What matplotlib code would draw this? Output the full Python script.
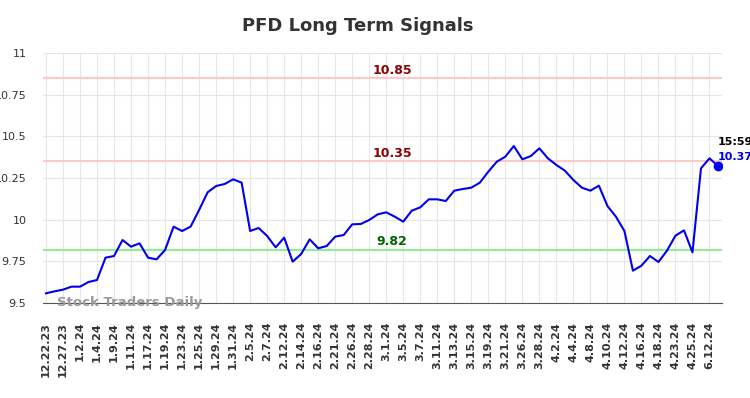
import matplotlib
matplotlib.use("Agg")
import matplotlib.pyplot as plt

dates = ["12.22.23", "12.27.23", "1.2.24", "1.4.24", "1.9.24", "1.11.24", "1.17.24", "1.19.24",
         "1.23.24", "1.25.24", "1.29.24", "1.31.24", "2.5.24", "2.7.24", "2.12.24", "2.14.24",
         "2.16.24", "2.21.24", "2.26.24", "2.28.24", "3.1.24", "3.5.24", "3.7.24", "3.11.24",
         "3.13.24", "3.15.24", "3.19.24", "3.21.24", "3.26.24", "3.28.24", "4.2.24", "4.4.24",
         "4.8.24", "4.10.24", "4.12.24", "4.16.24", "4.18.24", "4.23.24", "4.25.24", "6.12.24"]

prices = [9.558, 9.570, 9.580, 9.598, 9.598, 9.626, 9.638, 9.772, 9.782, 9.878,
          9.838, 9.858, 9.772, 9.762, 9.818, 9.958, 9.932, 9.958, 10.058, 10.164,
          10.202, 10.214, 10.242, 10.222, 9.932, 9.950, 9.902, 9.834, 9.892, 9.748,
          9.794, 9.882, 9.828, 9.842, 9.898, 9.908, 9.972, 9.974, 9.998, 10.032,
          10.044, 10.018, 9.988, 10.054, 10.074, 10.122, 10.122, 10.112, 10.174, 10.184,
          10.192, 10.222, 10.288, 10.348, 10.378, 10.442, 10.362, 10.382, 10.428, 10.368,
          10.328, 10.294, 10.238, 10.192, 10.174, 10.204, 10.082, 10.018, 9.932, 9.694,
          9.724, 9.782, 9.746, 9.814, 9.904, 9.936, 9.804, 10.308, 10.368, 10.322]

resistance_levels = [10.85, 10.35]
support_levels = [9.82]
last_time = "15:59"
last_label = "10.37"
yticks = [9.5, 9.75, 10, 10.25, 10.5, 10.75, 11]
ytick_labels = ["9.5", "9.75", "10", "10.25", "10.5", "10.75", "11"]

fig = plt.figure(figsize=(7.5, 3.98), dpi=100)
ax = fig.add_axes([43/750, 1 - 303/398, (722-43)/750, (303-53)/398])

x = list(range(len(prices)))
ax.set_xlim(-0.35, len(prices) - 1 + 0.47)
ax.set_ylim(9.5, 11)

ax.grid(True, color="#e6e6e6", linewidth=0.8)
ax.set_axisbelow(True)

for lv in resistance_levels:
    ax.axhline(lv, color="#ffc8c8", linewidth=1.5, zorder=1)
    ax.text(40.7, lv + 0.009, f"{lv:.2f}", color="#8b0000", fontsize=9, fontweight="bold",
            ha="center", va="bottom")
for lv in support_levels:
    ax.axhline(lv, color="#90ee90", linewidth=1.5, zorder=1)
    ax.text(40.7, lv + 0.009, f"{lv:.2f}", color="#006400", fontsize=9, fontweight="bold",
            ha="center", va="bottom")

ax.plot(x, prices, color="#0000ee", linewidth=1.5, zorder=3)
ax.plot([x[-1]], [prices[-1]], "o", color="#0000ee", markersize=6, zorder=4)

ax.annotate(last_time, (x[-1], prices[-1]), xytext=(0, 17), textcoords="offset points",
            color="black", fontsize=8, fontweight="bold", ha="left", va="center",
            annotation_clip=False)
ax.annotate(last_label, (x[-1], prices[-1]), xytext=(0, 6.5), textcoords="offset points",
            color="#0000ee", fontsize=8, fontweight="bold", ha="left", va="center",
            annotation_clip=False)

ax.text(1.3, 9.505, "Stock Traders Daily", color="#999999", fontsize=9.5, fontweight="bold",
        ha="left", va="center", zorder=5)

ax.set_xticks(x[::2])
ax.set_xticklabels(dates, rotation=90, fontsize=8, fontweight="bold", color="#333333")
ax.set_yticks(yticks)
ax.set_yticklabels(ytick_labels, fontsize=8, color="#333333")
ax.tick_params(axis="x", length=0, pad=13.5)
ax.tick_params(axis="y", length=0, pad=12)

for s in ["top", "right", "left"]:
    ax.spines[s].set_visible(False)
ax.spines["bottom"].set_color("#555555")

fig.text(358/750, 1 - 26/398, "PFD Long Term Signals", ha="center", va="center",
         fontsize=13, fontweight="bold", color="#333333")

fig.savefig("out.png", dpi=100)
